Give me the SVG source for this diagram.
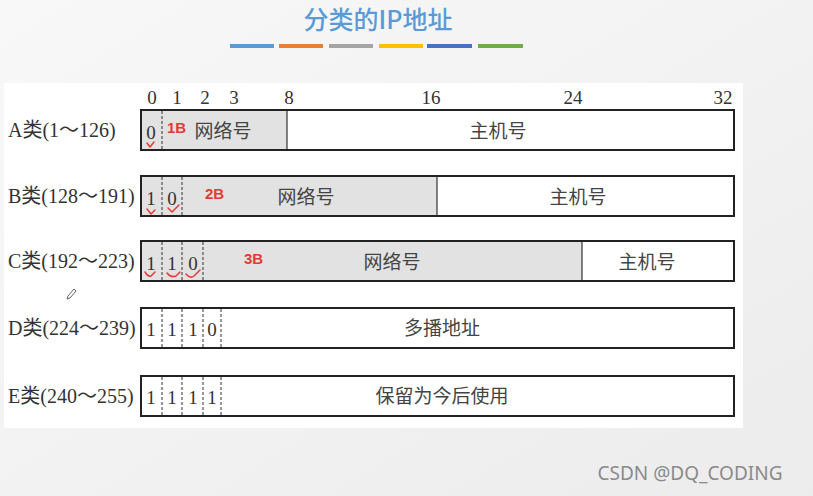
<svg xmlns="http://www.w3.org/2000/svg" width="813" height="496" viewBox="0 0 813 496">
<defs>
<linearGradient id="bg" x1="0" y1="0" x2="1" y2="1">
<stop offset="0" stop-color="#f8f8f8"/>
<stop offset="1" stop-color="#ececec"/>
</linearGradient>
</defs>
<style>
.lbl{font-family:"Liberation Serif","Noto Sans CJK SC",serif;font-size:20px;fill:#333}
.bit{font-family:"Liberation Serif",serif;font-size:19px;fill:#333;text-anchor:middle}
.cn{font-family:"Noto Sans CJK SC",sans-serif;font-size:19px;fill:#444;text-anchor:middle}
.red{font-family:"Liberation Sans",sans-serif;font-size:15px;font-weight:bold;fill:#e53935}
.box{fill:#fff;stroke:#222;stroke-width:2}
.net{fill:#e2e2e2}
.dash{stroke:#333;stroke-width:1;stroke-dasharray:3,2}
.sol{stroke:#333;stroke-width:1.2}
.chk{fill:none;stroke:#e53935;stroke-width:1.5;stroke-linecap:round;stroke-linejoin:round}
</style>
<rect width="813" height="496" fill="url(#bg)"/>
<rect x="4" y="83" width="739" height="345" fill="#fff"/>
<text x="378" y="29" text-anchor="middle" font-family="Noto Sans CJK SC,sans-serif" font-size="25" font-weight="500" fill="#5b9bd5">分类的IP地址</text>
<g id="bars">
<rect x="230" y="44" width="44" height="4" fill="#5b9bd5"/>
<rect x="279" y="44" width="44" height="4" fill="#ed7d31"/>
<rect x="329" y="44" width="44" height="4" fill="#a5a5a5"/>
<rect x="379" y="44" width="44" height="4" fill="#ffc000"/>
<rect x="427" y="44" width="45" height="4" fill="#4472c4"/>
<rect x="478" y="44" width="45" height="4" fill="#70ad47"/>
</g>
<g id="ticks">
<text class="bit" x="152" y="104">0</text>
<text class="bit" x="177" y="104">1</text>
<text class="bit" x="205" y="104">2</text>
<text class="bit" x="234" y="104">3</text>
<text class="bit" x="289" y="104">8</text>
<text class="bit" x="431" y="104">16</text>
<text class="bit" x="573" y="104">24</text>
<text class="bit" x="723" y="104">32</text>
</g>
<g id="rowA">
<text class="lbl" x="8" y="137">A类(1～126)</text>
<rect class="box" x="141" y="110" width="593" height="40"/>
<rect class="net" x="142" y="111" width="145" height="38"/>
<line class="dash" x1="162" y1="111" x2="162" y2="149"/>
<line class="sol" x1="287" y1="111" x2="287" y2="149"/>
<text class="bit" x="151" y="139">0</text>
<text class="red" x="167" y="133">1B</text>
<text class="cn" x="223" y="138">网络号</text>
<text class="cn" x="498" y="138">主机号</text>
<path class="chk" d="M147,143 l3,4 l4,-5"/>
</g>
<g id="rowB">
<text class="lbl" x="8" y="203">B类(128～191)</text>
<rect class="box" x="141" y="176" width="593" height="40"/>
<rect class="net" x="142" y="177" width="295" height="38"/>
<line class="dash" x1="162" y1="177" x2="162" y2="215"/>
<line class="dash" x1="182" y1="177" x2="182" y2="215"/>
<line class="sol" x1="437" y1="177" x2="437" y2="215"/>
<text class="bit" x="151" y="205">1</text>
<text class="bit" x="172" y="205">0</text>
<text class="red" x="205" y="199">2B</text>
<text class="cn" x="306" y="204">网络号</text>
<text class="cn" x="578" y="204">主机号</text>
<path class="chk" d="M147,209 l4,5 l4,-4"/>
<path class="chk" d="M168,208 l4,4 l7,-7"/>
</g>
<g id="rowC">
<text class="lbl" x="8" y="268">C类(192～223)</text>
<rect class="box" x="141" y="241" width="593" height="40"/>
<rect class="net" x="142" y="242" width="440" height="38"/>
<line class="dash" x1="162" y1="242" x2="162" y2="280"/>
<line class="dash" x1="182" y1="242" x2="182" y2="280"/>
<line class="dash" x1="203" y1="242" x2="203" y2="280"/>
<line class="sol" x1="582" y1="242" x2="582" y2="280"/>
<text class="bit" x="151" y="270">1</text>
<text class="bit" x="172" y="270">1</text>
<text class="bit" x="193" y="270">0</text>
<text class="red" x="244" y="264">3B</text>
<text class="cn" x="392" y="269">网络号</text>
<text class="cn" x="647" y="269">主机号</text>
<path class="chk" d="M145,272 q3,5 6,4 l4,-4"/>
<path class="chk" d="M167,273 q4,5 9,3 l4,-4"/>
<path class="chk" d="M186,274 q4,5 8,2 l6,-6"/>
</g>
<path id="pencil" d="M68,296 l6,-7 l2,2 l-6,7 l-3,1 z" fill="none" stroke="#666" stroke-width="1"/>
<g id="rowD">
<text class="lbl" x="8" y="335">D类(224～239)</text>
<rect class="box" x="141" y="308" width="593" height="40"/>
<line class="dash" x1="162" y1="309" x2="162" y2="347"/>
<line class="dash" x1="182" y1="309" x2="182" y2="347"/>
<line class="dash" x1="203" y1="309" x2="203" y2="347"/>
<line class="dash" x1="221" y1="309" x2="221" y2="347"/>
<text class="bit" x="151" y="336">1</text>
<text class="bit" x="172" y="336">1</text>
<text class="bit" x="193" y="336">1</text>
<text class="bit" x="212" y="336">0</text>
<text class="cn" x="442" y="335">多播地址</text>
</g>
<g id="rowE">
<text class="lbl" x="8" y="403">E类(240～255)</text>
<rect class="box" x="141" y="376" width="593" height="40"/>
<line class="dash" x1="162" y1="377" x2="162" y2="415"/>
<line class="dash" x1="182" y1="377" x2="182" y2="415"/>
<line class="dash" x1="203" y1="377" x2="203" y2="415"/>
<line class="dash" x1="221" y1="377" x2="221" y2="415"/>
<text class="bit" x="151" y="404">1</text>
<text class="bit" x="172" y="404">1</text>
<text class="bit" x="193" y="404">1</text>
<text class="bit" x="212" y="404">1</text>
<text class="cn" x="442" y="403">保留为今后使用</text>
</g>
<text x="690" y="480" text-anchor="middle" font-family="Noto Sans,sans-serif" font-size="19" fill="#8a8a8a">CSDN @DQ_CODING</text>
</svg>
